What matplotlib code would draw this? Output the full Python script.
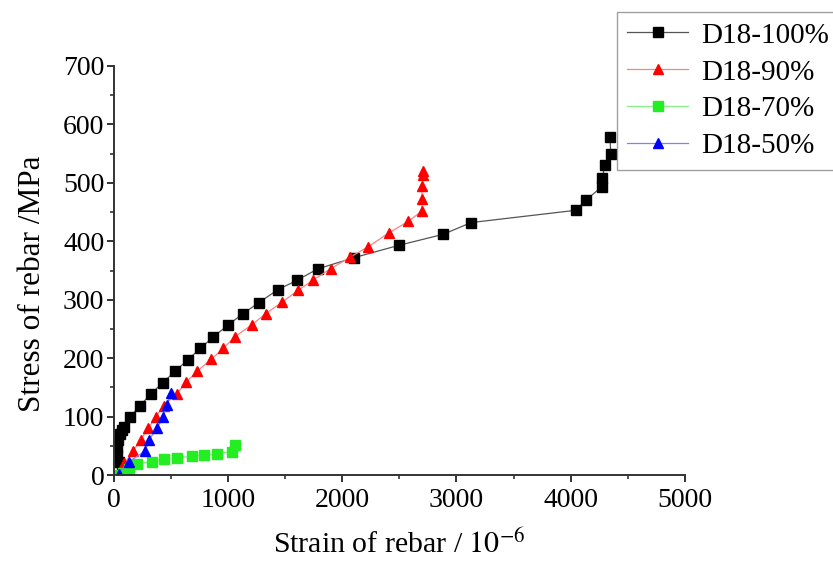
import matplotlib
matplotlib.use("Agg")
import matplotlib.pyplot as plt

plt.rcParams['font.family'] = ['Liberation Serif', 'DejaVu Serif']
plt.rcParams['mathtext.fontset'] = 'stix'

# strain (1e-6) / stress (MPa) pairs for each bar group
d100_strain = [100, 70, 40, 25, 25, 35, 50, 65, 85, 141, 223, 322, 425, 536, 644, 756, 867,
               999, 1128, 1268, 1432, 1599, 1787, 2103, 2493, 2885, 3128, 4045, 4139,
               4271, 4279, 4300, 4353, 4344]
d100_stress = [2, 10, 22, 35, 48, 60, 70, 78, 82, 100, 118, 139, 158, 178, 197, 217, 236,
               257, 276, 295, 317, 333, 353, 372, 393, 412, 432, 453, 471,
               493, 509, 530, 549, 578]

d90_strain = [0, 90, 165, 234, 298, 364, 433, 549, 630, 730, 849, 957, 1060, 1206, 1327,
              1473, 1611, 1746, 1898, 2068, 2229, 2405, 2578, 2698, 2698, 2698, 2710, 2704]
d90_stress = [0, 20, 41, 61, 80, 99, 119, 139, 159, 178, 198, 217, 237, 257, 276,
              296, 316, 334, 353, 373, 391, 414, 434, 452, 473, 494, 514, 521]

d70_strain = [0, 80, 130, 198, 330, 440, 553, 684, 784, 900, 1032, 1062]
d70_stress = [0, 4, 11, 19, 23, 28, 30, 32, 35, 37, 40, 51]

d50_strain = [40, 130, 271, 307, 375, 426, 465, 498]
d50_stress = [2, 23, 41, 61, 80, 99, 120, 141]

series = [
    ("D18-100%", d100_strain, d100_stress, 's', 6.5, 'black', '#555555'),
    ("D18-90%", d90_strain, d90_stress, '^', 7.5, 'red', '#ff8080'),
    ("D18-70%", d70_strain, d70_stress, 's', 6.5, '#22ee22', '#88ee88'),
    ("D18-50%", d50_strain, d50_stress, '^', 7.5, 'blue', '#8080ff'),
]

fig = plt.figure(figsize=(8.33, 5.63), dpi=100)
ax = fig.add_axes([0.137, 0.156, 0.685, 0.727])

for label, x, y, marker, msize, mcolor, lcolor in series:
    ax.plot(x, y, color=lcolor, linewidth=0.9, marker=marker, markersize=msize,
            markerfacecolor=mcolor, markeredgecolor=mcolor, label=label)

ax.set_xlim(0, 5000)
ax.set_ylim(0, 700)
ax.set_xticks(range(0, 5001, 1000))
ax.set_xticks(range(500, 5000, 1000), minor=True)
ax.set_yticks(range(0, 701, 100))
ax.set_yticks(range(50, 700, 100), minor=True)

for side in ['top', 'right']:
    ax.spines[side].set_visible(False)
for side in ['left', 'bottom']:
    ax.spines[side].set_linewidth(1.4)
    ax.spines[side].set_color('#333333')

ax.tick_params(which='major', direction='out', length=5, width=1.4, color='#333333',
               labelsize=20)
ax.tick_params(axis='x', which='major', pad=4)
ax.tick_params(axis='y', which='major', pad=2)
ax.tick_params(which='minor', direction='out', length=3, width=1.2, color='#333333')

ax.set_xlabel(r"Strain of rebar / $10^{-6}$", fontsize=21.5, labelpad=12)
ax.set_ylabel("Stress of rebar /MPa", fontsize=22.5)
ax.yaxis.set_label_coords(-0.117, 0.467)

leg = fig.legend(loc='upper left', bbox_to_anchor=(617 / 833, 1 - 12 / 563),
                 fontsize=21, frameon=True, fancybox=False, edgecolor='#888888',
                 handlelength=2.1, handletextpad=0.43, labelspacing=0.36,
                 borderpad=0.35, borderaxespad=0)
leg.get_frame().set_linewidth(1.0)

fig.savefig("out.png", dpi=100)
